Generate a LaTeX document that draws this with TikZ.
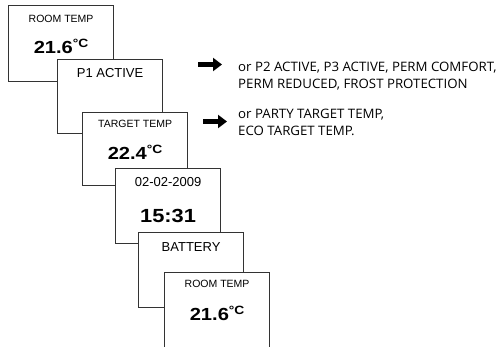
\documentclass[tikz,border=0pt]{standalone}
\usepackage{fontspec}
\setmainfont{Liberation Sans}
\newfontfamily\schmal[FakeStretch=1.02]{Open Sans}
\newfontfamily\breit[FakeStretch=1.15]{Liberation Sans}
\usetikzlibrary{arrows.meta}

\tikzset{
  anzeige/.style={draw=black!80, line width=1.2pt, fill=white, anchor=north west,
    minimum width=105pt, minimum height=75pt, inner sep=0pt},
  klein/.style={font=\fontsize{10.5}{12}\selectfont, inner sep=0pt},
  mittel/.style={font=\fontsize{13}{15}\selectfont, inner sep=0pt},
  gross/.style={font=\breit\bfseries\fontsize{17.5}{20}\selectfont, inner sep=0pt, anchor=base},
  pfeil/.style={line width=5.5pt, -{Triangle[length=9pt,width=13pt]}},
  hinweis/.style={font=\schmal\fontsize{13}{17}\selectfont, align=left, anchor=base west, inner sep=0pt}
}
\newcommand{\grad}{\raisebox{6pt}{\fontsize{12}{12}\selectfont °C}}

\begin{document}
\begin{tikzpicture}[x=1pt,y=-1pt]
  \clip (0,0) rectangle (500,346);
  % die Anzeigen
  \foreach \x/\y/\n/\h in {8/5/a/76, 57/59/b/74, 82/112/c/73, 115/168/d/75, 138/232/e/75, 164/272/f/85}
    \node[anzeige, minimum height=\h pt] (\n) at (\x,\y) {};
  % Texte in den Anzeigen
  \node[klein] (a-titel) at ([yshift=-14pt]a.north) {ROOM TEMP};
  \node[gross] (a-wert) at ([yshift=-48.5pt]a.north) {21.6\grad};
  \node[mittel] (b-titel) at ([yshift=-14pt]b.north) {P1 ACTIVE};
  \node[klein] (c-titel) at ([yshift=-11.5pt]c.north) {TARGET TEMP};
  \node[gross] (c-wert) at ([yshift=-47pt]c.north) {22.4\grad};
  \node[mittel] (d-titel) at ([yshift=-14pt]d.north) {02-02-2009};
  \node[gross, font=\breit\bfseries\fontsize{19}{20}\selectfont] (d-wert) at ([yshift=-54pt]d.north) {15:31};
  \node[mittel] (e-titel) at ([yshift=-15pt]e.north) {BATTERY};
  \node[klein] (f-titel) at ([yshift=-12pt]f.north) {ROOM TEMP};
  \node[gross] (f-wert) at ([yshift=-48pt]f.north) {21.6\grad};
  % Pfeile mit Hinweisen
  \coordinate (pa1) at (198,64.5);
  \coordinate (pa2) at (222,64.5);
  \coordinate (pb1) at (203,121.5);
  \coordinate (pb2) at (227,121.5);
  \draw[pfeil] (pa1) -- (pa2);
  \draw[pfeil] (pb1) -- (pb2);
  % base west = Grundlinie der letzten Zeile
  \node[hinweis] (ha) at (238,88) {or P2 ACTIVE, P3 ACTIVE, PERM COMFORT,\\PERM REDUCED, FROST PROTECTION};
  \node[hinweis] (hb) at (238,135.5) {or PARTY TARGET TEMP,\\ECO TARGET TEMP.};
\end{tikzpicture}
\end{document}
